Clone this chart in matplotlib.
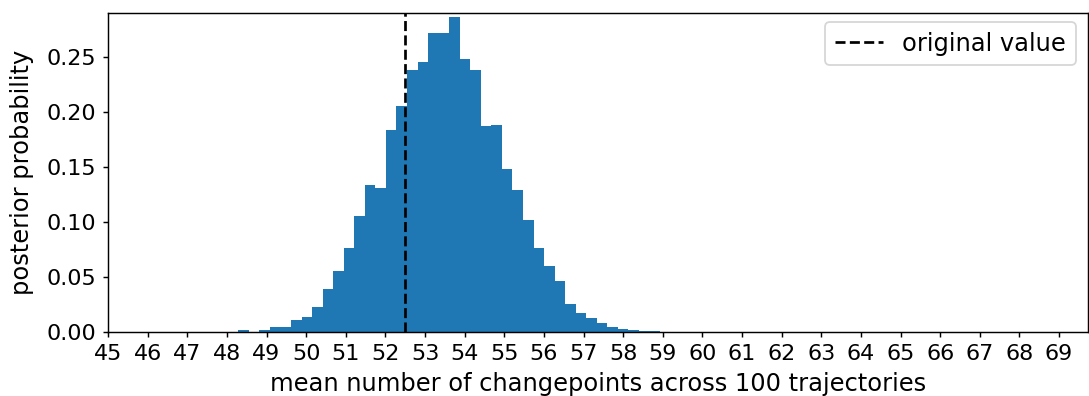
import numpy as np
import matplotlib
matplotlib.use("Agg")
import matplotlib.pyplot as plt

# Posterior histogram of the mean number of changepoints (40 equal-width bins)
bin_start = 48.29
bin_width = 0.266
density = [
    0.0018, 0.0000, 0.0018, 0.0049, 0.0049, 0.0110, 0.0140, 0.0230,
    0.0390, 0.0556, 0.0765, 0.1059, 0.1332, 0.1311, 0.1835, 0.2054,
    0.2381, 0.2454, 0.2715, 0.2715, 0.2861, 0.2478, 0.2384, 0.1872,
    0.1884, 0.1480, 0.1292, 0.1016, 0.0764, 0.0604, 0.0464, 0.0252,
    0.0173, 0.0124, 0.0079, 0.0045, 0.0030, 0.0018, 0.0012, 0.0010,
]
original_value = 52.5
x_ticks = list(range(45, 70))
y_ticks = [0.00, 0.05, 0.10, 0.15, 0.20, 0.25]

edges = bin_start + bin_width * np.arange(len(density) + 1)

plt.rcParams["xtick.labelsize"] = 12.3
plt.rcParams["ytick.labelsize"] = 12.3
plt.rcParams["axes.labelsize"] = 13.4
plt.rcParams["legend.fontsize"] = 13.4
plt.rcParams["xtick.major.size"] = 3.0
plt.rcParams["ytick.major.size"] = 3.0

dpi = 130
fig = plt.figure(figsize=(1089 / dpi, 396 / dpi), dpi=dpi)
ax = fig.add_axes([108 / 1089, (396 - 332) / 396, (1088 - 108) / 1089, (332 - 13) / 396])

ax.hist(edges[:-1], bins=edges, weights=density, color="#1f77b4")
ax.axvline(original_value, color="black", linestyle="--", label="original value")

ax.set_xticks(x_ticks)
ax.set_yticks(y_ticks)
ax.set_xlim(45, 69.73)
ax.set_ylim(0, 0.29)
ax.set_xlabel("mean number of changepoints across 100 trajectories", labelpad=4.5)
ax.set_ylabel("posterior probability", labelpad=7)
ax.legend(loc="upper right", bbox_to_anchor=(1.0, 1.01))

fig.savefig("out.png", dpi=dpi)
